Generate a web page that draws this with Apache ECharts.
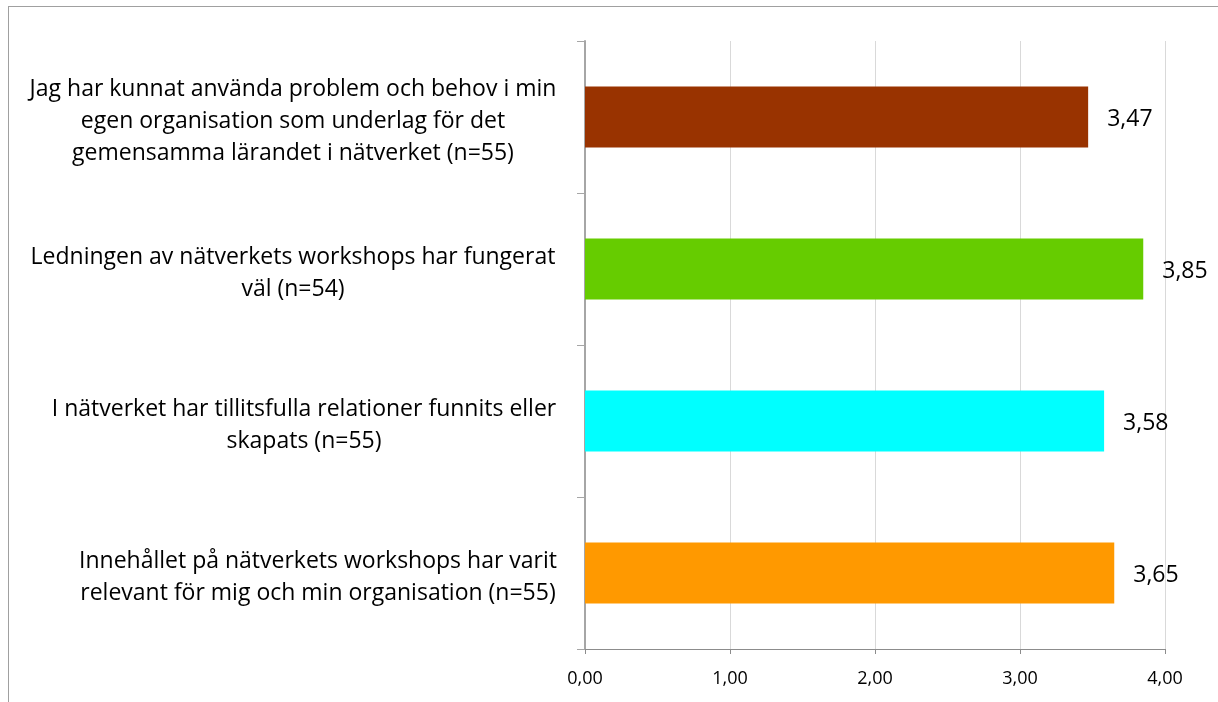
<!DOCTYPE html>
<html>
<head>
<meta charset="utf-8">
<script src="https://cdn.jsdelivr.net/npm/echarts@6/dist/echarts.min.js"></script>
<style>
  html, body { margin: 0; padding: 0; background: #fff; }
  #frame { position: absolute; left: 8px; top: 6px; width: 1220px; height: 710px; border: 1px solid #a0a0a0; box-sizing: border-box; }
  #chart { position: absolute; left: 0; top: 0; width: 1218px; height: 702px; }
</style>
</head>
<body>
<div id="frame"></div>
<div id="chart"></div>
<script>
// Statements, top to bottom
const categories = [
  'Jag har kunnat använda problem och behov i min\negen organisation som underlag för det\ngemensamma lärandet i nätverket (n=55)',
  'Ledningen av nätverkets workshops har fungerat\nväl (n=54)',
  'I nätverket har tillitsfulla relationer funnits eller\nskapats (n=55)',
  'Innehållet på nätverkets workshops har varit\nrelevant för mig och min organisation (n=55)'
];
// Mean scores
const values = [3.47, 3.85, 3.58, 3.65];
const barColors = ['#993300', '#66cc00', '#00ffff', '#ff9900'];
const axisTicks = [0, 1, 2, 3, 4];

const fmt = v => v.toFixed(2).replace('.', ',');

// Text boxes sit flush near the axis, so some blocks are nudged right
const labelText = { fontFamily: 'Open Sans', fontSize: 23, color: '#000', lineHeight: 32 };
const rich = {
  s0: Object.assign({}, labelText),
  s1: Object.assign({}, labelText),
  s2: Object.assign({}, labelText, { padding: [0, 0, 0, 22] }),
  s3: Object.assign({}, labelText, { padding: [0, 0, 0, 50] })
};

const chart = echarts.init(document.getElementById('chart'));
chart.setOption({
  animation: false,
  grid: { left: 585, right: 53, top: 41, bottom: 53, containLabel: false, outerBoundsMode: 'none' },
  xAxis: {
    type: 'value',
    min: axisTicks[0],
    max: axisTicks[axisTicks.length - 1],
    interval: 1,
    axisLine: { show: true, lineStyle: { color: '#8c8c8c', width: 1 } },
    axisTick: { show: true, length: 5, lineStyle: { color: '#8c8c8c' } },
    axisLabel: { formatter: v => fmt(v), fontFamily: 'Open Sans', fontSize: 18, color: '#000', margin: 21 },
    splitLine: { show: true, lineStyle: { color: '#d9d9d9', width: 1 } }
  },
  yAxis: {
    type: 'category',
    inverse: true,
    data: categories,
    axisLine: { show: true, lineStyle: { color: '#a6a6a6', width: 2 } },
    axisTick: { show: true, length: 8, lineStyle: { color: '#a6a6a6', width: 1 } },
    axisLabel: {
      fontFamily: 'Open Sans', fontSize: 23, color: '#000', lineHeight: 32,
      align: 'center', margin: 292, padding: [9, 0, 0, 0],
      formatter: (v, i) => {
        const idx = categories.indexOf(v);
        return v.split('\n').map(line => '{s' + idx + '|' + line + '}').join('\n');
      },
      rich: rich
    },
    splitLine: { show: false }
  },
  series: [{
    type: 'bar',
    data: values.map((v, i) => ({ value: v, itemStyle: { color: barColors[i] } })),
    barCategoryGap: '60%',
    label: {
      show: true, position: 'right', distance: 19, offset: [0, 2],
      formatter: p => fmt(p.value),
      fontFamily: 'Open Sans', fontSize: 23, color: '#000'
    }
  }]
});
</script>
</body>
</html>
